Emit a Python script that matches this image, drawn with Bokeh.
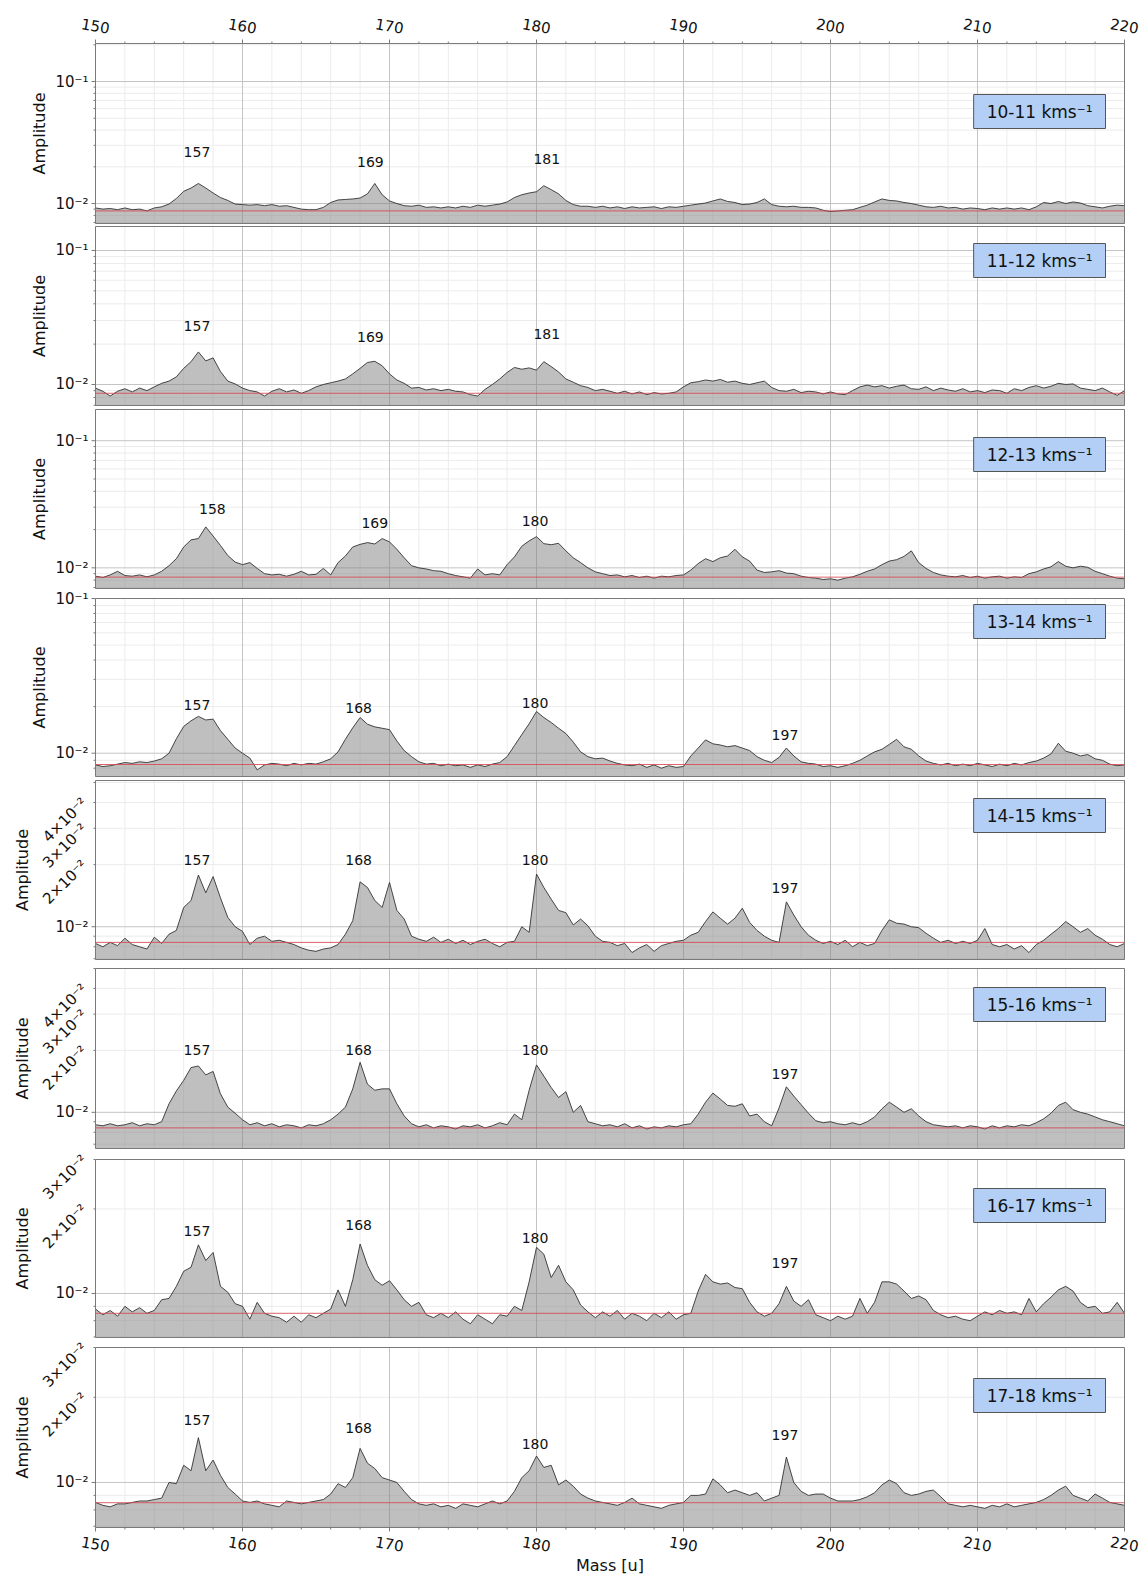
import numpy as np
from bokeh.plotting import figure
from bokeh.models import Label, Range1d, LogScale
from bokeh.embed import file_html
from bokeh.resources import INLINE
from bokeh.core.properties import value

# ---------------- data ----------------
MASS_START = 150.0
MASS_STEP = 0.5            # sampling step of the spectra [u]
AMP_UNIT = 1e-3            # amplitudes below are in units of 1e-3

SPEED_BINS = ["10-11", "11-12", "12-13", "13-14", "14-15", "15-16", "16-17", "17-18"]

AMP_10_11 = [
    9.2, 9.0, 9.1, 8.9, 9.2, 8.9, 9.0, 8.7, 9.2, 9.4,
    9.9, 11.0, 12.6, 13.4, 14.6, 13.4, 12.2, 11.2, 10.6, 9.9,
    9.8, 9.7, 9.8, 9.6, 9.8, 9.5, 9.6, 9.3, 9.0, 8.9,
    8.9, 9.3, 10.2, 10.7, 10.8, 10.9, 11.1, 12.0, 14.6, 11.8,
    10.5, 10.0, 9.6, 9.5, 9.7, 9.3, 9.4, 9.2, 9.4, 9.2,
    9.5, 9.3, 9.7, 9.5, 9.7, 9.9, 10.3, 11.2, 11.8, 12.2,
    12.5, 14.0, 13.0, 12.0, 10.6, 9.8, 9.5, 9.5, 9.3, 9.5,
    9.2, 9.4, 9.1, 9.4, 9.2, 9.3, 9.4, 9.1, 9.4, 9.3,
    9.5, 9.7, 9.9, 10.1, 10.5, 10.9, 10.4, 10.2, 9.8, 9.9,
    10.2, 10.9, 9.8, 9.5, 9.4, 9.5, 9.3, 9.3, 9.2, 8.8,
    8.6, 8.7, 8.8, 8.9, 9.3, 9.7, 10.3, 10.9, 10.6, 10.5,
    10.2, 10.0, 9.7, 9.4, 9.3, 9.5, 9.2, 9.3, 9.0, 9.2,
    9.1, 8.9, 9.2, 9.0, 9.2, 9.0, 9.2, 8.9, 9.4, 10.2,
    10.0, 10.4, 10.0, 10.3, 10.1, 9.6, 9.4, 9.2, 9.5, 9.7,
    9.6]

AMP_11_12 = [
    9.4, 8.9, 8.2, 8.9, 9.3, 8.8, 9.4, 9.0, 9.6, 10.2,
    10.6, 11.4, 13.2, 14.8, 17.5, 15.0, 15.8, 12.5, 10.6, 10.1,
    9.4, 9.0, 8.8, 8.2, 8.9, 9.3, 8.8, 9.1, 8.6, 9.0,
    9.6, 10.0, 10.3, 10.6, 11.0, 12.0, 13.2, 14.6, 14.9, 13.8,
    12.0, 10.8, 10.2, 9.4, 9.5, 9.1, 9.3, 9.0, 9.2, 8.9,
    8.8, 8.4, 8.2, 9.2, 10.0, 11.0, 12.3, 13.4, 13.0, 13.3,
    12.8, 14.8, 13.6, 12.4, 11.0, 10.4, 9.8, 9.5, 9.0, 9.2,
    8.9, 8.6, 8.9, 8.5, 8.8, 8.4, 8.7, 8.5, 8.6, 8.8,
    9.6, 10.3, 10.5, 10.8, 10.6, 10.9, 10.4, 10.6, 10.2, 10.0,
    10.3, 10.6, 9.5, 9.0, 8.9, 9.2, 8.7, 8.9, 8.8, 8.5,
    8.8, 8.5, 8.4, 9.0, 9.6, 9.9, 9.6, 9.8, 9.4, 9.7,
    9.9, 9.3, 9.2, 9.6, 9.0, 9.4, 9.1, 8.9, 9.3, 8.8,
    9.0, 8.7, 9.1, 9.0, 8.6, 9.3, 9.0, 9.5, 9.8, 9.4,
    9.7, 10.2, 10.0, 10.1, 9.4, 9.2, 9.0, 9.4, 8.8, 8.3,
    9.0]

AMP_12_13 = [
    8.6, 8.4, 8.8, 9.4, 8.7, 8.6, 8.8, 8.5, 8.8, 9.4,
    10.4, 11.8, 14.6, 16.6, 17.0, 21.0, 17.8, 15.0, 12.5, 11.1,
    10.6, 11.0, 9.9, 9.0, 8.8, 8.9, 8.6, 8.9, 9.4, 8.8,
    8.9, 9.9, 8.8, 11.0, 12.4, 14.6, 15.3, 15.8, 15.4, 17.0,
    16.0, 14.0, 12.0, 10.4, 10.0, 9.8, 9.5, 9.4, 9.0, 8.7,
    8.5, 8.3, 9.8, 8.8, 9.0, 8.8, 10.6, 12.2, 14.8, 16.3,
    17.6, 15.5, 15.2, 15.6, 13.6, 12.0, 11.0, 10.0, 9.3, 9.0,
    8.7, 8.8, 8.5, 8.7, 8.4, 8.6, 8.3, 8.6, 8.5, 8.7,
    8.8, 9.6, 10.8, 11.8, 11.2, 12.0, 12.4, 14.0, 12.2, 11.3,
    9.6, 9.2, 9.3, 9.5, 9.1, 9.0, 8.6, 8.4, 8.3, 8.1,
    8.2, 8.0, 8.3, 8.5, 8.9, 9.4, 9.8, 10.6, 11.3, 11.6,
    12.3, 13.6, 11.0, 9.9, 9.2, 8.8, 8.6, 8.5, 8.7, 8.4,
    8.6, 8.3, 8.5, 8.6, 8.3, 8.5, 8.4, 9.0, 9.3, 9.8,
    10.2, 11.2, 10.3, 10.0, 10.3, 10.1, 9.4, 9.0, 8.6, 8.3,
    8.2]

AMP_13_14 = [
    8.4, 8.2, 8.3, 8.5, 8.7, 8.6, 8.8, 8.7, 8.9, 9.2,
    10.0, 12.4, 14.9, 16.2, 17.3, 16.4, 16.6, 14.0, 12.3, 10.8,
    10.0, 9.3, 7.8, 8.4, 8.6, 8.5, 8.3, 8.6, 8.4, 8.6,
    8.5, 8.8, 9.2, 10.2, 12.3, 14.6, 17.0, 15.4, 14.8, 14.5,
    14.2, 12.0, 10.4, 9.5, 8.8, 8.5, 8.6, 8.3, 8.5, 8.3,
    8.4, 8.1, 8.4, 8.2, 8.5, 8.7, 9.5, 11.2, 13.2, 15.5,
    18.6, 17.0, 15.8, 14.5, 13.4, 11.8, 10.2, 9.5, 9.2, 9.3,
    8.9, 8.6, 8.4, 8.3, 8.5, 8.1, 8.4, 8.0, 8.3, 8.1,
    8.2, 9.6, 10.8, 12.2, 11.5, 11.3, 11.0, 11.2, 10.8, 10.4,
    9.5, 9.0, 8.7, 9.4, 10.8, 9.6, 8.8, 8.6, 8.5, 8.2,
    8.3, 8.1, 8.3, 8.6, 9.0, 9.6, 10.2, 10.6, 11.4, 12.3,
    11.0, 10.6, 9.6, 8.9, 8.6, 8.4, 8.6, 8.3, 8.5, 8.3,
    8.6, 8.4, 8.2, 8.5, 8.3, 8.6, 8.4, 8.7, 8.9, 9.3,
    9.9, 11.6, 10.3, 10.0, 9.6, 9.8, 9.2, 9.0, 8.5, 8.3,
    8.4]

AMP_14_15 = [
    8.3, 8.0, 8.4, 8.1, 8.8, 8.2, 8.0, 7.8, 8.9, 8.3,
    9.2, 9.6, 12.4, 13.4, 17.8, 14.6, 17.5, 13.8, 11.1, 10.0,
    9.5, 8.2, 8.8, 9.0, 8.5, 8.6, 8.4, 8.2, 7.9, 7.7,
    7.6, 7.8, 7.9, 8.2, 9.2, 10.7, 16.5, 15.5, 13.4, 12.4,
    16.4, 12.0, 10.9, 9.0, 8.7, 8.5, 8.9, 8.4, 8.7, 8.3,
    8.6, 8.2, 8.5, 8.7, 8.3, 8.0, 8.4, 8.5, 10.0, 9.4,
    18.0, 15.5, 13.6, 12.0, 11.7, 10.2, 10.9, 10.1, 9.0, 8.5,
    8.4, 8.1, 8.3, 7.5, 7.9, 8.2, 7.6, 8.1, 8.3, 8.5,
    8.6, 9.1, 9.4, 10.6, 11.8, 11.0, 10.3, 11.0, 12.3, 10.5,
    9.6, 9.0, 8.6, 8.4, 13.2, 11.4, 10.0, 9.1, 8.6, 8.3,
    8.5, 8.2, 8.6, 8.0, 8.4, 8.1, 8.3, 9.6, 10.8, 10.4,
    10.3, 10.0, 9.9, 9.3, 8.8, 8.4, 8.6, 8.3, 8.5, 8.3,
    8.6, 9.8, 8.2, 8.0, 8.2, 7.8, 8.1, 7.5, 8.2, 8.6,
    9.2, 9.8, 10.6, 10.0, 9.4, 9.8, 9.1, 8.7, 8.2, 8.0,
    8.3]

AMP_15_16 = [
    8.7, 8.6, 8.8, 8.6, 8.7, 8.9, 8.6, 8.8, 8.7, 9.0,
    11.0, 12.7, 14.3, 16.5, 16.8, 15.2, 15.8, 12.3, 10.6, 9.9,
    9.2, 8.7, 8.9, 8.6, 8.8, 8.5, 8.7, 8.6, 8.4, 8.7,
    8.6, 8.8, 9.2, 9.8, 10.6, 13.0, 17.5, 13.7, 12.8, 13.0,
    13.0, 11.0, 9.6, 8.8, 8.5, 8.7, 8.4, 8.6, 8.5, 8.3,
    8.6, 8.5, 8.7, 8.4, 8.6, 8.9, 8.7, 9.8, 9.2, 12.8,
    17.0, 15.0, 13.2, 11.8, 12.6, 10.0, 10.8, 9.0, 8.8, 8.6,
    8.7, 8.5, 8.8, 8.4, 8.6, 8.3, 8.5, 8.4, 8.6, 8.5,
    8.7, 8.8, 9.8, 11.2, 12.4, 11.6, 10.8, 10.7, 11.0, 9.6,
    9.8, 9.0, 8.6, 10.5, 13.3, 12.0, 10.9, 9.9, 9.1, 8.9,
    9.0, 8.8, 8.7, 8.9, 8.7, 9.0, 9.5, 10.4, 11.2, 10.6,
    10.0, 10.4, 9.6, 9.0, 8.7, 8.6, 8.5, 8.6, 8.4, 8.6,
    8.5, 8.3, 8.6, 8.4, 8.6, 8.5, 8.7, 8.6, 8.9, 9.3,
    9.9, 10.8, 11.2, 10.3, 10.0, 9.8, 9.5, 9.2, 9.0, 8.8,
    8.6]

AMP_16_17 = [
    8.8, 8.4, 8.7, 8.3, 9.0, 8.6, 8.9, 8.5, 8.7, 9.5,
    9.6, 10.6, 12.0, 12.4, 14.9, 13.1, 14.0, 10.6, 10.1, 9.2,
    9.0, 8.1, 9.3, 8.5, 8.3, 8.2, 7.9, 8.3, 7.9, 8.4,
    8.2, 8.5, 8.8, 10.3, 9.0, 11.2, 15.0, 12.6, 11.2, 10.7,
    11.1, 10.3, 9.5, 9.0, 9.3, 8.4, 8.2, 8.5, 8.2, 8.6,
    8.1, 7.8, 8.4, 8.1, 7.8, 8.4, 8.3, 9.0, 8.7, 11.0,
    14.6, 13.8, 11.4, 12.6, 11.0, 10.3, 9.1, 8.6, 8.2, 8.6,
    8.3, 8.7, 8.1, 8.5, 8.3, 8.0, 8.5, 8.2, 8.6, 8.1,
    8.4, 8.5, 10.2, 11.7, 11.0, 10.8, 10.9, 10.5, 10.4, 9.3,
    8.6, 8.3, 8.5, 9.2, 10.6, 9.4, 9.0, 9.5, 8.4, 8.2,
    8.0, 8.3, 8.1, 8.3, 9.6, 8.5, 9.3, 11.0, 11.0, 10.8,
    10.2, 9.6, 9.8, 9.5, 8.7, 8.4, 8.2, 8.3, 8.1, 8.0,
    8.3, 8.6, 8.4, 8.7, 8.5, 8.6, 8.4, 9.6, 8.6, 9.2,
    9.7, 10.3, 10.6, 10.2, 9.3, 8.9, 9.0, 8.5, 8.6, 9.3,
    8.5]

AMP_17_18 = [
    8.5, 8.3, 8.2, 8.4, 8.4, 8.5, 8.6, 8.6, 8.7, 8.8,
    10.0, 9.9, 11.5, 11.0, 14.4, 11.0, 12.0, 10.6, 9.6, 9.1,
    8.6, 8.5, 8.6, 8.4, 8.3, 8.2, 8.6, 8.5, 8.4, 8.5,
    8.6, 8.7, 9.1, 9.9, 9.6, 10.4, 13.2, 11.7, 11.2, 10.4,
    10.2, 10.0, 9.3, 8.7, 8.4, 8.3, 8.4, 8.2, 8.3, 8.1,
    8.4, 8.3, 8.2, 8.4, 8.6, 8.4, 8.6, 9.3, 10.4, 11.0,
    12.4, 11.3, 11.5, 9.8, 10.2, 9.7, 9.1, 8.8, 8.6, 8.5,
    8.4, 8.3, 8.5, 8.8, 8.4, 8.3, 8.2, 8.1, 8.3, 8.4,
    8.5, 9.0, 9.0, 9.1, 10.3, 9.8, 9.2, 9.4, 9.2, 9.0,
    9.2, 8.6, 8.8, 9.0, 12.3, 10.0, 9.3, 9.0, 9.1, 9.1,
    8.8, 8.6, 8.6, 8.6, 8.7, 8.9, 9.2, 9.8, 10.2, 9.9,
    9.2, 9.0, 9.1, 9.3, 9.4, 8.9, 8.4, 8.3, 8.2, 8.3,
    8.2, 8.1, 8.3, 8.2, 8.4, 8.2, 8.3, 8.4, 8.5, 8.7,
    9.0, 9.4, 9.7, 9.0, 8.8, 8.6, 9.1, 8.8, 8.5, 8.4,
    8.3]

# noise baseline (red line), units 1e-3
BASELINES = [8.7, 8.6, 8.45, 8.45, 8.4, 8.4, 8.5, 8.48]

# peak annotations
PEAK_TEXT = [
    ["157", "169", "181"],
    ["157", "169", "181"],
    ["158", "169", "180"],
    ["157", "168", "180", "197"],
    ["157", "168", "180", "197"],
    ["157", "168", "180", "197"],
    ["157", "168", "180", "197"],
    ["157", "168", "180", "197"],
]
PEAK_TEXT_X = [
    [156.9, 168.7, 180.7],
    [156.9, 168.7, 180.7],
    [157.95, 169.0, 179.9],
    [156.9, 167.9, 179.9, 196.9],
    [156.9, 167.9, 179.9, 196.9],
    [156.9, 167.9, 179.9, 196.9],
    [156.9, 167.9, 179.9, 196.9],
    [156.9, 167.9, 179.9, 196.9],
]
PEAK_TEXT_Y = [   # units 1e-3
    [26.3, 22.1, 23.2],
    [27.1, 22.5, 23.9],
    [29.2, 22.7, 23.5],
    [20.5, 19.5, 21.0, 13.2],
    [21.1, 21.1, 21.1, 15.4],
    [20.1, 20.1, 20.1, 15.4],
    [16.7, 17.6, 15.7, 12.8],
    [16.6, 15.6, 13.7, 14.7],
]

X_TICKS = [150, 160, 170, 180, 190, 200, 210, 220]
X_MINOR = [152, 154, 156, 158, 162, 164, 166, 168, 172, 174, 176, 178,
           182, 184, 186, 188, 192, 194, 196, 198, 202, 204, 206, 208,
           212, 214, 216, 218]
X_LIMITS = (150, 220)

# ---------------- layout (pixels / axis limits) ----------------
W, H = 1143, 1576
LEFT_W, FRAME_W, RIGHT_W = 95, 1029, 19
Y_RANGES = [(0.00686, 0.205), (0.00697, 0.151), (0.00688, 0.176), (0.00707, 0.1),
            (0.00694, 0.0511), (0.00667, 0.050), (0.00697, 0.030), (0.00693, 0.030)]
FRAME_TOP = [43, 226, 409, 598, 780, 968, 1159, 1347]
FRAME_H = [180, 179, 179, 178, 179, 180, 178, 180]
BOX_OFFSET = [51, 17, 28, 6, 18, 19, 29, 31]
YLABEL_DX = [-56, -56, -56, -56, -73, -73, -73, -73]   # px from frame left

SERIES = [AMP_10_11, AMP_11_12, AMP_12_13, AMP_13_14, AMP_14_15, AMP_15_16, AMP_16_17, AMP_17_18]

FONT = "DejaVu Sans"
TXT = "#111111"
GRID_MAJOR = "#c4c4c4"
GRID_MINOR = "#ececec"
FRAME_COL = "#7a7a7a"

SUP = {"-": "\u207b", "1": "\u00b9", "2": "\u00b2"}

U_PER_PX = (X_LIMITS[1] - X_LIMITS[0]) / FRAME_W


def exp_label(mant, exp):
    s = "".join(SUP[c] for c in str(exp))
    return ("10" + s) if mant == 1 else f"{mant}\u00d710{s}"


def y_ticks(lo, hi):
    if hi > 0.08:
        major = [0.01, 0.1]
        minor = [0.007, 0.008, 0.009, 0.02, 0.03, 0.04, 0.05, 0.06, 0.07, 0.08, 0.09, 0.2]
    else:
        major = [0.01]
        minor = [0.006, 0.007, 0.008, 0.009, 0.02, 0.03, 0.04, 0.05]
    major = [v for v in major if lo <= v <= hi * 1.0001]
    minor = [v for v in minor if lo <= v <= hi]
    return major, minor


# one canvas; every panel gets its own log-scaled y range mapped onto its band
extra_ranges, extra_scales = {}, {}
for i, (lo, hi) in enumerate(Y_RANGES):
    d = (np.log10(hi) - np.log10(lo)) / FRAME_H[i]
    below = H - (FRAME_TOP[i] + FRAME_H[i])
    extra_ranges[f"p{i}"] = Range1d(10 ** (np.log10(lo) - below * d),
                                    10 ** (np.log10(hi) + FRAME_TOP[i] * d))
    extra_scales[f"p{i}"] = LogScale()

p = figure(frame_width=W, frame_height=H,
           x_range=Range1d(X_LIMITS[0] - LEFT_W * U_PER_PX, X_LIMITS[1] + RIGHT_W * U_PER_PX),
           y_range=Range1d(0, H),
           x_axis_location=None, y_axis_location=None,
           min_border=0, output_backend="svg", toolbar_location=None)
p.extra_y_ranges = extra_ranges
p.extra_y_scales = extra_scales
p.grid.visible = False
p.outline_line_color = None
p.background_fill_color = "white"
p.border_fill_color = "white"

txt_kw = dict(text_font=value(FONT), text_color=TXT)

for i, amp_list in enumerate(SERIES):
    rn = f"p{i}"
    lo, hi = Y_RANGES[i]
    amp = np.array(amp_list) * AMP_UNIT
    mass = MASS_START + MASS_STEP * np.arange(len(amp))
    major, minor = y_ticks(lo, hi)

    # grid
    p.segment(x0=X_MINOR, x1=X_MINOR, y0=lo, y1=hi, y_range_name=rn,
              line_color=GRID_MINOR, line_width=1)
    p.segment(x0=X_LIMITS[0], x1=X_LIMITS[1], y0=minor, y1=minor, y_range_name=rn,
              line_color=GRID_MINOR, line_width=1)
    p.segment(x0=X_TICKS, x1=X_TICKS, y0=lo, y1=hi, y_range_name=rn,
              line_color=GRID_MAJOR, line_width=1)
    p.segment(x0=X_LIMITS[0], x1=X_LIMITS[1], y0=major, y1=major, y_range_name=rn,
              line_color=GRID_MAJOR, line_width=1)

    # spectrum
    p.varea(x=mass, y1=lo, y2=amp, y_range_name=rn, fill_color="#808080", fill_alpha=0.5)
    p.line(mass, amp, y_range_name=rn, line_color="#333333", line_width=0.9)
    base = BASELINES[i] * AMP_UNIT
    p.segment(x0=[X_LIMITS[0]], x1=[X_LIMITS[1]], y0=[base], y1=[base], y_range_name=rn,
              line_color="#d64550", line_width=1, line_alpha=0.85)

    # frame
    p.quad(left=[X_LIMITS[0]], right=[X_LIMITS[1]], bottom=[lo], top=[hi], y_range_name=rn,
           fill_color=None, line_color=FRAME_COL, line_width=1)

    # y ticks and labels
    x_in = X_LIMITS[0]
    p.segment(x0=x_in - 2 * U_PER_PX, x1=x_in, y0=minor, y1=minor, y_range_name=rn,
              line_color=FRAME_COL, line_width=1)
    p.segment(x0=x_in - 4 * U_PER_PX, x1=x_in, y0=major, y1=major, y_range_name=rn,
              line_color=FRAME_COL, line_width=1)
    p.text(x=x_in - 7 * U_PER_PX, y=major, y_range_name=rn,
           text=[exp_label(1, int(round(np.log10(v)))) for v in major],
           text_align="right", text_baseline="middle", text_font_size="15px", **txt_kw)
    if hi <= 0.08:
        rot = [v for v in [0.02, 0.03, 0.04] if lo <= v <= hi * 1.001]
        p.text(x=x_in - 11 * U_PER_PX, y=rot, y_offset=-2, y_range_name=rn,
               text=[exp_label(int(round(v * 100)), -2) for v in rot],
               angle=0.785, text_align="right", text_baseline="middle",
               text_font_size="15px", **txt_kw)
    p.text(x=[x_in + YLABEL_DX[i] * U_PER_PX], y=[np.sqrt(lo * hi)], y_range_name=rn,
           text=["Amplitude"], angle=np.pi / 2, text_align="center",
           text_baseline="middle", text_font_size="16px", **txt_kw)

    # peak labels
    p.text(x=PEAK_TEXT_X[i], y=[v * AMP_UNIT for v in PEAK_TEXT_Y[i]], y_range_name=rn,
           text=PEAK_TEXT[i], text_align="center", text_baseline="middle",
           text_font_size="14px", **txt_kw)

    # velocity box  (padding given as left, right, top, bottom)
    p.add_layout(Label(x=X_LIMITS[1], y=hi, y_range_name=rn,
                       x_offset=-19, y_offset=-BOX_OFFSET[i], anchor="top_right",
                       text=f"{SPEED_BINS[i]} kms\u207b\u00b9",
                       text_font=FONT, text_font_size="17px", text_color=TXT,
                       background_fill_color="#b3cff5", background_fill_alpha=1.0,
                       border_line_color="#555555", border_line_width=1,
                       padding=(13, 13, 7, 7)))

# mass axis: ticks on top of the first panel and below the last one (pixel rows)
top_y = H - FRAME_TOP[0]
bot_y = H - (FRAME_TOP[-1] + FRAME_H[-1])
p.segment(x0=X_MINOR, x1=X_MINOR, y0=top_y, y1=top_y + 2, line_color=FRAME_COL)
p.segment(x0=X_TICKS, x1=X_TICKS, y0=top_y, y1=top_y + 4, line_color=FRAME_COL)
p.segment(x0=X_MINOR, x1=X_MINOR, y0=bot_y - 2, y1=bot_y, line_color=FRAME_COL)
p.segment(x0=X_TICKS, x1=X_TICKS, y0=bot_y - 4, y1=bot_y, line_color=FRAME_COL)
tick_txt = [str(v) for v in X_TICKS]
p.text(x=X_TICKS, y=top_y + 18, text=tick_txt, angle=-0.17, text_align="center",
       text_baseline="middle", text_font_size="15px", **txt_kw)
p.text(x=X_TICKS, y=bot_y - 16, text=tick_txt, angle=-0.17, text_align="center",
       text_baseline="middle", text_font_size="15px", **txt_kw)
p.text(x=[(X_LIMITS[0] + X_LIMITS[1]) / 2], y=[bot_y - 38], text=["Mass [u]"],
       text_align="center", text_baseline="middle", text_font_size="16px", **txt_kw)

with open("out.html", "w") as f:
    f.write(file_html(p, INLINE))
